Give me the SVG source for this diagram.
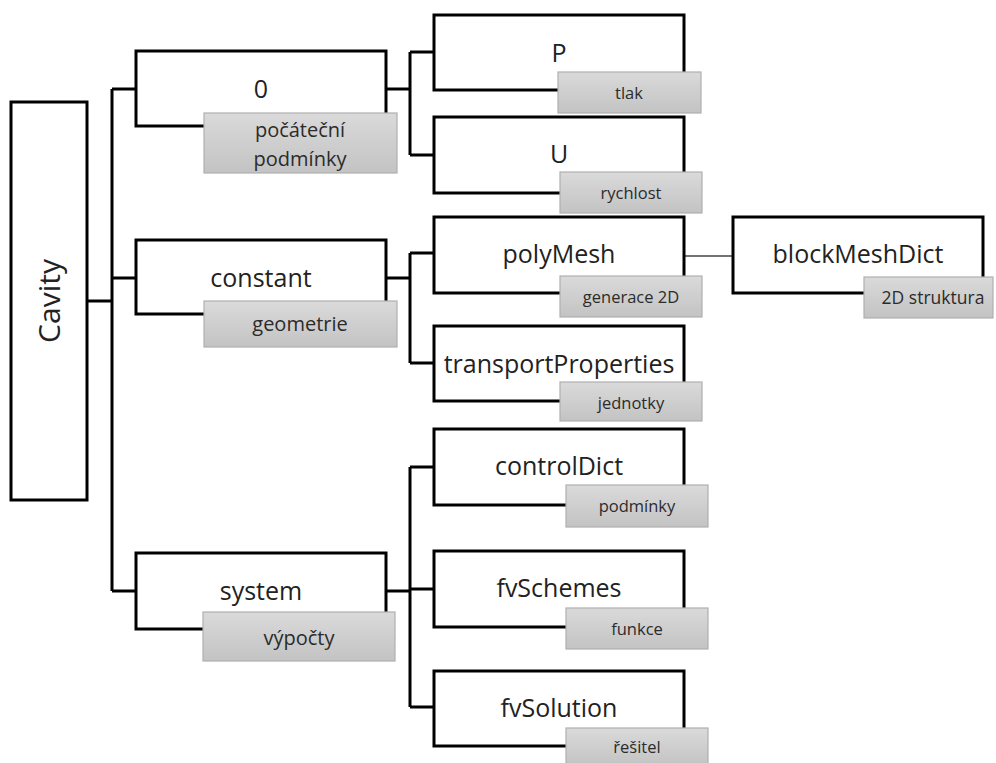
<svg xmlns="http://www.w3.org/2000/svg" width="996" height="763" viewBox="0 0 996 763">
<defs>
<linearGradient id="g" x1="0" y1="0" x2="0" y2="1">
<stop offset="0" stop-color="#dadada"/>
<stop offset="1" stop-color="#c3c3c3"/>
</linearGradient>
</defs>
<style>
.box{fill:#fff;stroke:#000;stroke-width:3}
.sub{fill:url(#g);stroke:#b0b0b0;stroke-width:1.2}
.lbl{font-family:"Open Sans","Noto Sans",sans-serif;font-size:25px;fill:#222;text-anchor:middle}
.s1{font-family:"Open Sans","Noto Sans",sans-serif;font-size:20px;fill:#2b2b2b;text-anchor:middle}
.s2{font-family:"Open Sans","Noto Sans",sans-serif;font-size:16.5px;fill:#2b2b2b;text-anchor:middle}
.con{fill:none;stroke:#000;stroke-width:3}
.thin{fill:none;stroke:#444;stroke-width:1.5}
</style>
<rect width="996" height="763" fill="#fff"/>
<g id="connectors">
<path class="con" d="M87,301H112M112,89V591M112,89H136M112,278H136M112,591H136"/>
<path class="con" d="M386,89H410M410,52V155M410,52H434M410,155H434"/>
<path class="con" d="M386,278H410M410,253V363M410,253H434M410,363H434"/>
<path class="con" d="M386,591H410M410,467V707M410,467H434M410,589H434M410,707H434"/>
<path class="thin" d="M684,256H733"/>
</g>
<g id="cavity">
<rect class="box" x="11" y="102" width="76" height="398"/>
<text class="lbl" style="font-size:30px" transform="translate(60,301) rotate(-90)">Cavity</text>
</g>
<g id="n0">
<rect class="box" x="136" y="51" width="250" height="75"/>
<text class="lbl" x="261" y="98">0</text>
<rect class="sub" x="204" y="113" width="193" height="60"/>
<text class="s1" x="300" y="137">počáteční</text>
<text class="s1" x="300" y="166">podmínky</text>
</g>
<g id="constant">
<rect class="box" x="136" y="240" width="250" height="74"/>
<text class="lbl" x="261" y="287">constant</text>
<rect class="sub" x="204" y="301" width="193" height="46"/>
<text class="s1" x="300" y="331">geometrie</text>
</g>
<g id="system">
<rect class="box" x="136" y="553" width="250" height="76"/>
<text class="lbl" x="261" y="600">system</text>
<rect class="sub" x="203" y="612" width="192" height="49"/>
<text class="s1" x="299" y="645">výpočty</text>
</g>
<g id="P">
<rect class="box" x="434" y="15" width="250" height="75"/>
<text class="lbl" x="559" y="62">P</text>
<rect class="sub" x="558" y="72" width="143" height="41"/>
<text class="s2" x="629" y="99">tlak</text>
</g>
<g id="U">
<rect class="box" x="434" y="117" width="250" height="76"/>
<text class="lbl" x="559" y="163">U</text>
<rect class="sub" x="560" y="172" width="142" height="41"/>
<text class="s2" x="631" y="199">rychlost</text>
</g>
<g id="polyMesh">
<rect class="box" x="434" y="217" width="250" height="76"/>
<text class="lbl" x="559" y="263">polyMesh</text>
<rect class="sub" x="560" y="276" width="142" height="41"/>
<text class="s2" x="631" y="303">generace 2D</text>
</g>
<g id="transportProperties">
<rect class="box" x="434" y="326" width="250" height="75"/>
<text class="lbl" x="559" y="373">transportProperties</text>
<rect class="sub" x="560" y="382" width="142" height="39"/>
<text class="s2" x="631" y="409">jednotky</text>
</g>
<g id="blockMeshDict">
<rect class="box" x="733" y="217" width="250" height="76"/>
<text class="lbl" x="858" y="263">blockMeshDict</text>
<rect class="sub" x="864" y="277" width="129" height="41"/>
<text class="s2" style="font-size:17.5px" x="933" y="304">2D struktura</text>
</g>
<g id="controlDict">
<rect class="box" x="434" y="429" width="250" height="76"/>
<text class="lbl" x="559" y="475">controlDict</text>
<rect class="sub" x="566" y="485" width="142" height="42"/>
<text class="s2" x="637" y="512">podmínky</text>
</g>
<g id="fvSchemes">
<rect class="box" x="434" y="551" width="250" height="76"/>
<text class="lbl" x="559" y="597">fvSchemes</text>
<rect class="sub" x="566" y="608" width="142" height="41"/>
<text class="s2" x="637" y="635">funkce</text>
</g>
<g id="fvSolution">
<rect class="box" x="434" y="671" width="250" height="75"/>
<text class="lbl" x="559" y="717">fvSolution</text>
<rect class="sub" x="566" y="728" width="142" height="38"/>
<text class="s2" x="637" y="753">řešitel</text>
</g>
</svg>
